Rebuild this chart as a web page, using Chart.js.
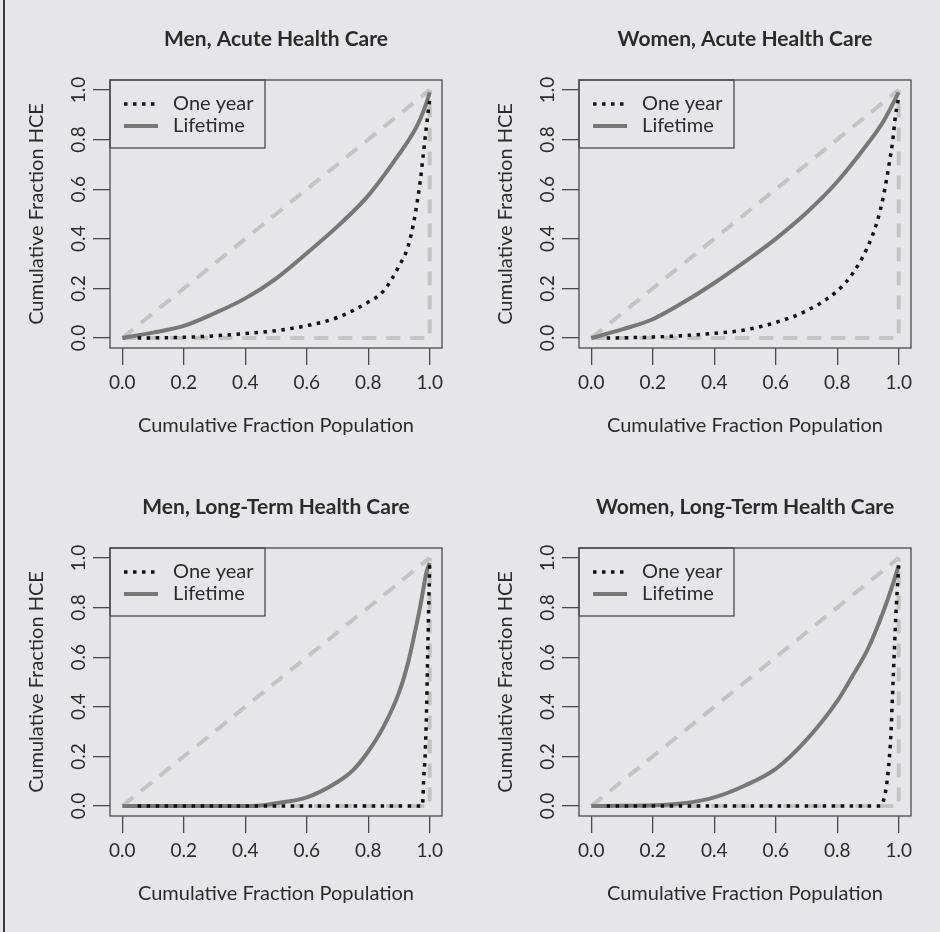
<!DOCTYPE html>
<html>
<head>
<meta charset="utf-8">
<script src="https://cdn.jsdelivr.net/npm/chart.js@4"></script>
<style>
  html, body { margin: 0; padding: 0; background: #e6e6e8; overflow: hidden; }
  #page { position: relative; width: 940px; height: 932px; }
  #rule { position: absolute; left: 3px; top: 0; width: 2px; height: 932px; background: #3a3a3a; }
  .panel { position: absolute; width: 470px; height: 466px; }
</style>
</head>
<body>
<div id="page">
  <div id="rule"></div>
  <div class="panel" style="left:0;top:0"><canvas id="c0" width="470" height="466"></canvas></div>
  <div class="panel" style="left:469px;top:0"><canvas id="c1" width="470" height="466"></canvas></div>
  <div class="panel" style="left:0;top:468px"><canvas id="c2" width="470" height="466"></canvas></div>
  <div class="panel" style="left:469px;top:468px"><canvas id="c3" width="470" height="466"></canvas></div>
</div>
<script>
// panel titles
var titles = ['Men, Acute Health Care', 'Women, Acute Health Care',
              'Men, Long-Term Health Care', 'Women, Long-Term Health Care'];

var tickValues = [0, 0.2, 0.4, 0.6, 0.8, 1.0];

// Lorenz curves: x = cumulative fraction population
var menAcuteX      = [0, 0.1, 0.2, 0.3, 0.4, 0.5, 0.6, 0.7, 0.8, 0.9, 0.95, 0.97, 0.99, 1.0];
var menAcuteLife   = [0, 0.022, 0.049, 0.10, 0.16, 0.24, 0.342, 0.45, 0.574, 0.74, 0.835, 0.885, 0.95, 0.99];
var menAcuteOneX   = [0.05, 0.2, 0.3, 0.4, 0.5, 0.6, 0.7, 0.8, 0.85, 0.9, 0.93, 0.95, 0.97, 0.98, 0.99, 1.0];
var menAcuteOne    = [0, 0.003, 0.009, 0.018, 0.03, 0.05, 0.083, 0.145, 0.19, 0.29, 0.37, 0.48, 0.64, 0.75, 0.86, 0.96];

var womenAcuteX    = [0, 0.1, 0.2, 0.3, 0.4, 0.5, 0.6, 0.7, 0.8, 0.9, 0.95, 1.0];
var womenAcuteLife = [0, 0.035, 0.076, 0.144, 0.222, 0.308, 0.40, 0.505, 0.63, 0.785, 0.873, 0.99];
var womenAcuteOneX = [0.05, 0.2, 0.3, 0.4, 0.5, 0.6, 0.7, 0.8, 0.85, 0.9, 0.93, 0.95, 0.97, 0.98, 0.99, 1.0];
var womenAcuteOne  = [0, 0.004, 0.01, 0.019, 0.033, 0.063, 0.11, 0.19, 0.26, 0.37, 0.47, 0.57, 0.71, 0.79, 0.90, 0.97];

var menLongX       = [0, 0.2, 0.4, 0.45, 0.5, 0.6, 0.7, 0.75, 0.8, 0.85, 0.9, 0.93, 0.95, 0.97, 0.99, 1.0];
var menLongLife    = [0, 0, 0, 0.002, 0.011, 0.035, 0.097, 0.144, 0.22, 0.32, 0.457, 0.58, 0.69, 0.81, 0.945, 0.98];
var menLongOneX    = [0.05, 0.5, 0.975, 0.978, 0.98, 0.985, 0.99, 0.995, 1.0];
var menLongOne     = [0, 0, 0, 0.03, 0.1, 0.2, 0.4, 0.7, 0.98];

var womenLongX     = [0, 0.1, 0.2, 0.3, 0.4, 0.5, 0.6, 0.7, 0.8, 0.85, 0.9, 0.95, 0.98, 1.0];
var womenLongLife  = [0, 0.001, 0.003, 0.011, 0.035, 0.083, 0.15, 0.267, 0.423, 0.525, 0.634, 0.784, 0.89, 0.97];
var womenLongOneX  = [0.05, 0.5, 0.94, 0.95, 0.96, 0.97, 0.975, 0.98, 0.985, 0.99, 1.0];
var womenLongOne   = [0, 0, 0, 0.02, 0.08, 0.2, 0.3, 0.45, 0.6, 0.75, 0.97];

// equality and maximum-inequality reference lines
var equalX = [0, 1];
var equalY = [0, 1];
var maxX = [0, 1, 1];
var maxY = [0, 0, 1];

var panels = [
  [menAcuteX, menAcuteLife, menAcuteOneX, menAcuteOne],
  [womenAcuteX, womenAcuteLife, womenAcuteOneX, womenAcuteOne],
  [menLongX, menLongLife, menLongOneX, menLongOne],
  [womenLongX, womenLongLife, womenLongOneX, womenLongOne]
];

function pts(xs, ys) {
  return xs.map(function (x, i) { return {x: x, y: ys[i]}; });
}

var FONT = 'Lato, "Open Sans", sans-serif';
var INK = '#2b2b2b';

// legend goes inside the plot box (top left), framed; plus the box round the plot
var boxPlugin = {
  id: 'box',
  afterLayout: function (chart) {
    var lg = chart.legend, a = chart.chartArea;
    if (!lg) return;
    var w = lg.width, h = lg.height;
    lg.left = a.left + 12;
    lg.top = a.top + 12;
    lg.right = lg.left + w;
    lg.bottom = lg.top + h;
    lg.adjustHitBoxes();
  },
  afterDraw: function (chart) {
    var ctx = chart.ctx, a = chart.chartArea;
    ctx.save();
    ctx.strokeStyle = '#4a4a4a';
    ctx.lineWidth = 1.3;
    ctx.strokeRect(a.left, a.top, a.right - a.left, a.bottom - a.top);
    ctx.strokeRect(a.left, a.top, 155, 68);
    ctx.restore();
  }
};

panels.forEach(function (p, k) {
  var data = {
    datasets: [
      {label: 'One year', data: pts(p[2], p[3]), borderColor: '#111', borderWidth: 3.5,
       borderDash: [3.5, 5.5], cubicInterpolationMode: 'monotone'},
      {label: 'Lifetime', data: pts(p[0], p[1]), borderColor: '#777', borderWidth: 4,
       cubicInterpolationMode: 'monotone'},
      {label: 'equal', data: pts(equalX, equalY), borderColor: '#c3c3c3', borderWidth: 4,
       borderDash: [14, 10]},
      {label: 'max', data: pts(maxX, maxY), borderColor: '#c3c3c3', borderWidth: 4,
       borderDash: [14, 10]}
    ]
  };

  new Chart(document.getElementById('c' + k), {
    type: 'scatter',
    data: data,
    plugins: [boxPlugin],
    options: {
      responsive: false,
      animation: false,
      showLine: true,
      elements: { point: { radius: 0 }, line: { borderCapStyle: 'butt', fill: false } },
      layout: { padding: { left: 0, right: 28, top: 0, bottom: 0 } },
      plugins: {
        tooltip: { enabled: false },
        title: {
          display: true, text: titles[k], color: INK, fullSize: false,
          font: { family: FONT, size: 21, weight: 'bold' },
          padding: { top: 26.4, bottom: 28.4 }
        },
        legend: {
          position: 'chartArea', align: 'start',
          labels: {
            color: INK, font: { family: FONT, size: 20 },
            usePointStyle: true, pointStyleWidth: 34, padding: 2,
            filter: function (item) { return item.datasetIndex < 2; },
            generateLabels: function (chart) {
              return chart.data.datasets.map(function (ds, i) {
                return {
                  text: ' ' + ds.label, datasetIndex: i, pointStyle: 'line',
                  strokeStyle: ds.borderColor, fillStyle: ds.borderColor,
                  lineWidth: ds.borderWidth, lineDash: ds.borderDash || [],
                  lineCap: 'butt', fontColor: INK
                };
              });
            }
          }
        }
      },
      scales: {
        x: {
          type: 'linear', min: -0.04, max: 1.04,
          afterBuildTicks: function (s) { s.ticks = tickValues.map(function (v) { return {value: v}; }); },
          afterFit: function (s) { s.height = 118; },
          grid: { drawOnChartArea: false, drawTicks: true, tickLength: 17, color: '#4a4a4a', lineWidth: 1.3 },
          border: { display: false },
          ticks: { color: INK, font: { family: FONT, size: 19 }, padding: 6,
                   callback: function (v) { return v.toFixed(1); } },
          title: { display: true, text: 'Cumulative Fraction Population', color: INK,
                   font: { family: FONT, size: 20 }, padding: { top: 0, bottom: 28 } }
        },
        y: {
          type: 'linear', min: -0.04, max: 1.04,
          afterBuildTicks: function (s) { s.ticks = tickValues.map(function (v) { return {value: v}; }); },
          afterFit: function (s) { s.width = 110; },
          grid: { drawOnChartArea: false, drawTicks: true, tickLength: 17, color: '#4a4a4a', lineWidth: 1.3 },
          border: { display: false },
          ticks: { color: INK, font: { family: FONT, size: 19 }, padding: 1,
                   minRotation: 90, maxRotation: 90, crossAlign: 'center',
                   callback: function (v) { return v.toFixed(1); } },
          title: { display: true, text: 'Cumulative Fraction HCE', color: INK,
                   font: { family: FONT, size: 20 }, padding: { top: 25, bottom: 0 } }
        }
      }
    }
  });
});
</script>
</body>
</html>
